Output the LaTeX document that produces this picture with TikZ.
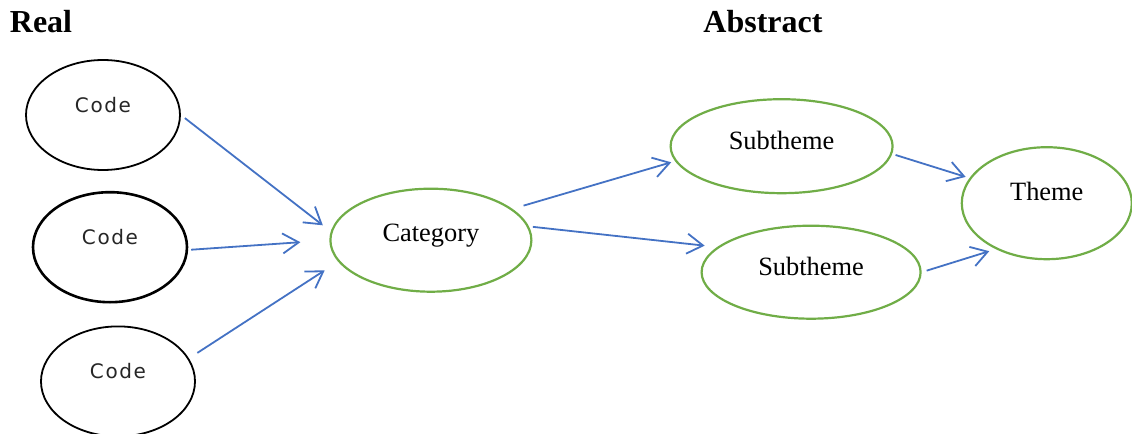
\documentclass[tikz,border=0pt]{standalone}
\usepackage{fontspec}
\setmainfont{Liberation Serif}
\newfontfamily\codefont[LetterSpace=8]{DejaVu Sans}
\usepackage{tikz}
\usetikzlibrary{arrows,arrows.meta,positioning,shapes.geometric}
\definecolor{leafgreen}{HTML}{70AD47}
\definecolor{linkblue}{HTML}{4472C4}

\begin{document}
\begin{tikzpicture}[
    code/.style={ellipse, draw=black, line width=0.9pt, minimum width=77pt, minimum height=55pt, inner sep=0pt,
      font=\codefont\fontsize{10}{11}\selectfont, text=black!85, text height=7.3pt, text depth=10pt},
    level/.style={ellipse, draw=leafgreen, line width=1.1pt, inner sep=0pt,
      font=\fontsize{13.2}{15}\selectfont, text height=8.7pt},
    link/.style={draw=linkblue, line width=0.9pt, -{Straight Barb[length=8pt,width=10pt]}},
    title/.style={font=\bfseries\fontsize{16}{18}\selectfont}
  ]
  \useasboundingbox (-51.5pt,-159.5pt) rectangle (514.5pt,57.5pt);
  \node (code1) [code] {Code};
  \node (code2) [code, below=10pt of code1, xshift=3.5pt, line width=1.3pt] {Code};
  \node (code3) [code, below=11pt of code2, xshift=4pt] {Code};
  \node (cat) [level, minimum width=100.5pt, minimum height=51.5pt, right=70.5pt of code2, yshift=3.5pt, text depth=7pt] {Category};
  \node (sub1) [level, minimum width=111pt, minimum height=47pt, right=68.5pt of cat, yshift=47pt, text depth=5pt] {Subtheme};
  \node (sub2) [level, minimum width=109.5pt, minimum height=46.5pt, right=84pt of cat, yshift=-16pt, text depth=5pt] {Subtheme};
  \node (theme) [level, minimum width=85pt, minimum height=56pt, right=33.5pt of sub1, yshift=-28.5pt, text depth=11pt] {Theme};
  \node (real) [title] at (-31pt,46.5pt) {Real};
  \node (abstract) [title] at (330pt,46.5pt) {Abstract};
  \draw[link, shorten <=2.5pt, shorten >=5pt] (code1.east) -- (cat.175);
  \draw[link, shorten <=1.5pt, shorten >=14.5pt] (code2.-2) -- (cat.west);
  \draw[link, shorten <=5pt, shorten >=8pt] (code3.18) -- (cat.193);
  \draw[link, shorten <=5.75pt, shorten >=2pt] (cat.21) -- (sub1.188);
  \draw[link, shorten <=2pt, shorten >=6.3pt] (cat.8) -- (sub2.165);
  \draw[link, shorten <=1.75pt, shorten >=2pt] (sub1.-4) -- (theme.162);
  \draw[link, shorten <=2.6pt, shorten >=3.4pt] (sub2.east) -- (theme.222);
\end{tikzpicture}
\end{document}
